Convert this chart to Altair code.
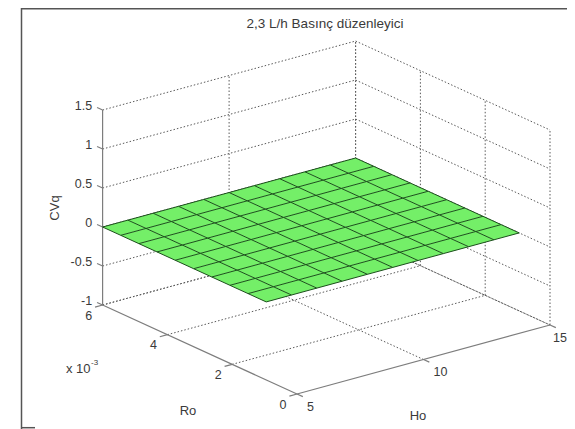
import altair as alt
import pandas as pd

# ---- values ----
TITLE = "2,3 L/h Basınç düzenleyici"
HO_GRID = [5, 6, 7, 8, 9, 10, 11, 12, 13, 14, 15]
RO_GRID = [0.95, 1.51, 2.07, 2.63, 3.19, 3.76, 4.32, 4.88, 5.44, 6.0]  # x 10^-3
CVQ_ROW = [0, 0, 0, 0, 0, 0, 0, 0, 0, 0, 0]   # CVq is flat at zero for every Ro
CVQ = [CVQ_ROW for _ in RO_GRID]

HO_TICKS = [5, 10, 15]
RO_TICKS = [0, 2, 4, 6]
Z_TICKS = [-1, -0.5, 0, 0.5, 1, 1.5]
Z_LABELS = ["-1", "-0.5", "0", "0.5", "1", "1.5"]


def project(ho, ro, z):
    """Fixed orthographic view of the 3-D axes, in page pixels."""
    return (
        297 + (ho - 5) * 25.3 - ro * 32.4,
        394 - (ho - 5) * 6.9 - ro * 14.83 - (z + 1) * 78.0,
    )


def polyline(rows, key, pts):
    for i, (ho, ro, z) in enumerate(pts):
        x, y = project(ho, ro, z)
        rows.append({"id": key, "i": i, "x": x, "y": y})


# ---- surface cells ----
def cell_rows(key, corners):
    xs = sorted({c[0] for c in corners})
    out = []
    n = len(corners)
    for x in xs:
        ys = []
        for k in range(n):
            (x0, y0), (x1, y1) = corners[k], corners[(k + 1) % n]
            if min(x0, x1) <= x <= max(x0, x1) and x0 != x1:
                ys.append(y0 + (y1 - y0) * (x - x0) / (x1 - x0))
        out.append({"cell": key, "x": x, "y": min(ys), "y2": max(ys)})
    return out


cells = []
for r in range(len(RO_GRID) - 1):
    for h in range(len(HO_GRID) - 1):
        corners = [
            project(HO_GRID[h], RO_GRID[r], CVQ[r][h]),
            project(HO_GRID[h + 1], RO_GRID[r], CVQ[r][h + 1]),
            project(HO_GRID[h + 1], RO_GRID[r + 1], CVQ[r + 1][h + 1]),
            project(HO_GRID[h], RO_GRID[r + 1], CVQ[r + 1][h]),
        ]
        cells += cell_rows(f"{r}-{h}", corners)

mesh = []
for r, ro in enumerate(RO_GRID):
    polyline(mesh, f"r{r}", [(ho, ro, CVQ[r][h]) for h, ho in enumerate(HO_GRID)])
for h, ho in enumerate(HO_GRID):
    polyline(mesh, f"h{h}", [(ho, ro, CVQ[r][h]) for r, ro in enumerate(RO_GRID)])

# ---- dashed box grid ----
grid = []
Z0, Z1 = Z_TICKS[0], Z_TICKS[-1]
for z in Z_TICKS:
    polyline(grid, f"zb{z}", [(5, 6, z), (15, 6, z)])
    polyline(grid, f"zr{z}", [(15, 6, z), (15, 0, z)])
for ro in RO_TICKS:
    if ro:
        polyline(grid, f"fr{ro}", [(5, ro, Z0), (15, ro, Z0)])
    polyline(grid, f"vr{ro}", [(15, ro, Z0), (15, ro, Z1)])
for ho in HO_TICKS[1:]:
    polyline(grid, f"fh{ho}", [(ho, 0, Z0), (ho, 6, Z0)])
    polyline(grid, f"vh{ho}", [(ho, 6, Z0), (ho, 6, Z1)])

# ---- solid axes and ticks ----
axes = []
polyline(axes, "az", [(5, 6, Z0), (5, 6, Z1)])
polyline(axes, "ar", [(5, 0, Z0), (5, 6, Z0)])
polyline(axes, "ah", [(5, 0, Z0), (15, 0, Z0)])
for z in Z_TICKS:
    polyline(axes, f"tz{z}", [(5, 6, z), (5, 6.17, z)])
for ro in RO_TICKS:
    polyline(axes, f"tr{ro}", [(5, ro, Z0), (4.7, ro, Z0)])
for ho in HO_TICKS:
    polyline(axes, f"th{ho}", [(ho, 0, Z0), (ho, -0.18, Z0)])


def label_df(items):
    rows = []
    for text, (ho, ro, z) in items:
        x, y = project(ho, ro, z)
        rows.append({"label": text, "x": x, "y": y})
    return pd.DataFrame(rows)


z_lab = label_df([(t, (5, 6, z)) for t, z in zip(Z_LABELS, Z_TICKS)])
ro_lab = label_df([(str(r), (5, r, Z0)) for r in RO_TICKS])
ho_lab = label_df([(str(h), (h, 0, Z0)) for h in HO_TICKS[:-1]])
ho_last = label_df([(str(HO_TICKS[-1]), (HO_TICKS[-1], 0, Z0))])

# ---- chart: scales span the page area that the chart occupies ----
X = alt.X("x:Q", axis=None, scale=alt.Scale(domain=[8, 567]))
Y = alt.Y("y:Q", axis=None, scale=alt.Scale(domain=[429, 8]))
FONT = "Liberation Sans"
INK = "#3a3a3a"


def line_layer(rows, **kw):
    return alt.Chart(pd.DataFrame(rows)).mark_line(**kw).encode(
        x=X, y=Y, detail="id:N", order="i:Q"
    )


def tick_text(df, **kw):
    return alt.Chart(df).mark_text(font=FONT, fontSize=12.5, color=INK, **kw).encode(
        x=X, y=Y, text="label:N"
    )


def note(text, px, py, **kw):
    """Free-standing text, positioned in page pixels."""
    style = dict(font=FONT, fontSize=13, color=INK)
    style.update(kw)
    return alt.Chart(alt.Data(values=[{"t": text}])).mark_text(**style).encode(
        x=alt.value(px - 8), y=alt.value(py - 8), text="t:N"
    )


def frame(x, y, x2=None, y2=None):
    enc = dict(x=alt.value(x), y=alt.value(y))
    if x2 is not None:
        enc["x2"] = alt.value(x2)
    if y2 is not None:
        enc["y2"] = alt.value(y2)
    return alt.Chart(alt.Data(values=[{"a": 0}])).mark_rule(
        color="#555555", strokeWidth=1.5
    ).encode(**enc)


grid_layer = line_layer(grid, color="#5a5a5a", strokeWidth=1, strokeDash=[1.5, 2])
axes_layer = line_layer(axes, color="#7d7d7d", strokeWidth=1.2)
cell_layer = alt.Chart(pd.DataFrame(cells)).mark_area(
    color="#74EF68", opacity=1, interpolate="linear"
).encode(x=X, y=Y, y2="y2:Q", detail="cell:N")
mesh_layer = line_layer(mesh, color="#1c4f1c", strokeWidth=1)

chart = alt.layer(
    frame(13.5, 0, y2=421),
    frame(13.5, 0.75, x2=559),
    frame(13.5, 419.7, x2=27),
    grid_layer,
    axes_layer,
    cell_layer,
    mesh_layer,
    tick_text(z_lab, align="right", baseline="middle", dx=-10.5, dy=-4),
    tick_text(ro_lab, align="center", baseline="middle", dx=-14, dy=10.5),
    tick_text(ho_lab, align="left", baseline="middle", dx=10, dy=12.5),
    tick_text(ho_last, align="right", baseline="middle", dx=17, dy=12.5),
    note("Ro", 188, 411, align="center", baseline="middle"),
    note("Ho", 418, 416, align="center", baseline="middle"),
    note("CVq", 55, 208, align="center", baseline="middle", angle=270),
    note("x 10", 66, 369, align="left", baseline="middle"),
    note("-3", 91, 363, align="left", baseline="middle", fontSize=8),
).properties(
    width=559,
    height=421,
    padding=0,
    autosize=alt.AutoSizeParams(type="none"),
    title=alt.TitleParams(
        text=TITLE, font=FONT, fontSize=13.5, fontWeight="normal", color=INK,
        anchor="middle", dx=37.5, offset=-23,
    ),
).configure_view(stroke=None)

chart.save("out.html", embed_options={"renderer": "svg", "actions": False})
